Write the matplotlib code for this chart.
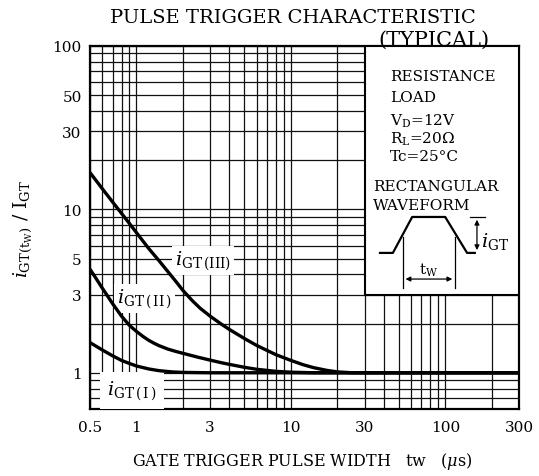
#!/usr/bin/env python

import numpy as np
import matplotlib
matplotlib.use("Agg")
import matplotlib.pyplot as plt
from matplotlib.ticker import FixedLocator, LogLocator, NullFormatter
from matplotlib.patches import Rectangle

plt.rcParams['font.family'] = ['DejaVu Serif']
plt.rcParams['mathtext.fontset'] = 'dejavuserif'

# pulse width tw (us) and normalised trigger current
tw_3 = [0.5, 0.6, 0.7, 0.8, 0.9, 1.0, 1.2, 1.4, 1.6, 1.8, 2.0, 2.3, 2.6, 3.0, 3.5, 4.0, 5.0, 6.0, 7.0, 8.0,
        10, 12, 14, 17, 20, 25, 300]
igt_3 = [16.8, 13.4, 11.1, 9.45, 8.2, 7.2, 5.76, 4.85, 4.15, 3.62, 3.19, 2.76, 2.47, 2.22, 2.0, 1.84, 1.62, 1.47, 1.37, 1.29,
         1.19, 1.12, 1.075, 1.035, 1.012, 1.0, 1.0]

tw_2 = [0.5, 0.55, 0.6, 0.7, 0.8, 0.9, 1.0, 1.1, 1.2, 1.3, 1.4, 1.6, 1.8, 2.0, 2.5, 3.0, 3.5, 4.0, 5.0, 6.0, 8.0, 10, 14, 300]
igt_2 = [4.3, 3.75, 3.3, 2.65, 2.22, 1.95, 1.79, 1.67, 1.58, 1.515, 1.465, 1.395, 1.35, 1.315, 1.245, 1.195, 1.155, 1.125,
         1.08, 1.05, 1.02, 1.008, 1.0, 1.0]

tw_1 = [0.5, 0.6, 0.7, 0.8, 0.9, 1.0, 1.2, 1.4, 1.7, 2.0, 3.0, 300]
igt_1 = [1.53, 1.38, 1.27, 1.19, 1.14, 1.1, 1.055, 1.03, 1.012, 1.005, 1.0, 1.0]

x_ticks = [0.5, 1, 3, 10, 30, 100, 300]
x_labels = ["0.5", "1", "3", "10", "30", "100", "300"]
y_ticks = [1, 3, 5, 10, 30, 50, 100]
y_labels = ["1", "3", "5", "10", "30", "50", "100"]

fig = plt.figure(figsize=(5.39, 4.77), dpi=100)
ax = fig.add_axes([90/539, 1-410/477, 429/539, 363/477])

ax.set_xscale('log')
ax.set_yscale('log')
ax.set_xlim(0.5, 300)
ax.set_ylim(0.6, 100)

ax.xaxis.set_major_locator(FixedLocator(x_ticks))
ax.xaxis.set_ticklabels(x_labels)
ax.yaxis.set_major_locator(FixedLocator(y_ticks))
ax.yaxis.set_ticklabels(y_labels)
ax.xaxis.set_minor_locator(LogLocator(base=10, subs=np.arange(1, 10)))
ax.yaxis.set_minor_locator(LogLocator(base=10, subs=np.arange(1, 10)))
ax.xaxis.set_minor_formatter(NullFormatter())
ax.yaxis.set_minor_formatter(NullFormatter())
ax.tick_params(which='both', length=0, labelsize=11)
ax.tick_params(axis='x', pad=8)
ax.tick_params(axis='y', pad=6)
ax.grid(which='both', color='#111111', lw=0.9)
ax.set_axisbelow(True)
for s in ax.spines.values():
    s.set_linewidth(1.6)

# curves
for x, y in [(tw_1, igt_1), (tw_2, igt_2), (tw_3, igt_3)]:
    ax.plot(x, y, color='black', lw=2.4, zorder=5, solid_capstyle='butt', solid_joinstyle='round')

# curve labels
lab_box = dict(facecolor='white', edgecolor='none', pad=2)
ax.text(1.78, 4.85, r"$i_{\mathrm{GT}\,(\mathrm{III})}$", fontsize=14, va='center', ha='left', bbox=lab_box, zorder=4)
ax.text(0.75, 2.84, r"$i_{\mathrm{GT}\,(\,\mathrm{II}\,)}$", fontsize=14, va='center', ha='left', bbox=lab_box, zorder=4)
ax.text(0.645, 0.78, r"$i_{\mathrm{GT}\,(\,\mathrm{I}\,)}$", fontsize=14, va='center', ha='left',
        bbox=dict(facecolor='white', edgecolor='none', pad=5), zorder=4)

# condition box
ax.add_patch(Rectangle((30, 3), 270, 97, facecolor='white', edgecolor='black', lw=1.5, zorder=3))
tk = dict(transform=ax.transAxes, fontsize=11, va='center', ha='left', zorder=6)
ax.text(0.699, 0.917, "RESISTANCE", **tk)
ax.text(0.699, 0.860, "LOAD", **tk)
ax.text(0.699, 0.796, r"V$_\mathrm{D}$=12V", **tk)
ax.text(0.699, 0.747, r"R$_\mathrm{L}$=20Ω", **tk)
ax.text(0.699, 0.697, "Tc=25°C", **tk)
ax.text(0.660, 0.614, "RECTANGULAR", **tk)
ax.text(0.660, 0.562, "WAVEFORM", **tk)

# waveform sketch
wx = [0.676, 0.706, 0.751, 0.828, 0.879, 0.897]
wy = [0.430, 0.430, 0.529, 0.529, 0.430, 0.430]
ax.plot(wx, wy, color='black', lw=1.6, transform=ax.transAxes, zorder=6, clip_on=False)
for vx in [0.729, 0.851]:
    ax.plot([vx, vx], [0.333, 0.474], color='black', lw=0.9, transform=ax.transAxes, zorder=6)
ax.annotate("", xy=(0.729, 0.358), xytext=(0.851, 0.358), xycoords='axes fraction',
            arrowprops=dict(arrowstyle='<|-|>', color='black', lw=0.9, mutation_scale=7), zorder=6)
ax.text(0.79, 0.385, r"t$_\mathrm{W}$", transform=ax.transAxes, fontsize=11, ha='center', va='center', zorder=6)
ax.annotate("", xy=(0.902, 0.529), xytext=(0.902, 0.430), xycoords='axes fraction',
            arrowprops=dict(arrowstyle='<|-|>', color='black', lw=0.9, mutation_scale=7), zorder=6)
ax.plot([0.885, 0.92], [0.529, 0.529], color='black', lw=0.9, transform=ax.transAxes, zorder=6)
ax.text(0.912, 0.463, r"$i_{\mathrm{GT}}$", transform=ax.transAxes, fontsize=14, ha='left', va='center', zorder=6)

# axis titles
ax.set_ylabel(r"$i_{\mathrm{GT(t_W)}}$ / I$_\mathrm{GT}$", fontsize=13.5)
ax.yaxis.set_label_coords(-0.128, 0.5)
fig.text(302/539, 1-462/477, r"GATE TRIGGER PULSE WIDTH   tw   ($\mu$s)", fontsize=11.5, ha='center', va='center')

fig.text(293/539, 1-18/477, "PULSE TRIGGER CHARACTERISTIC", fontsize=14, ha='center', va='center')
fig.text(489/539, 1-40/477, "(TYPICAL)", fontsize=15, ha='right', va='center')

fig.savefig("out.png", dpi=100)
plt.close(fig)
